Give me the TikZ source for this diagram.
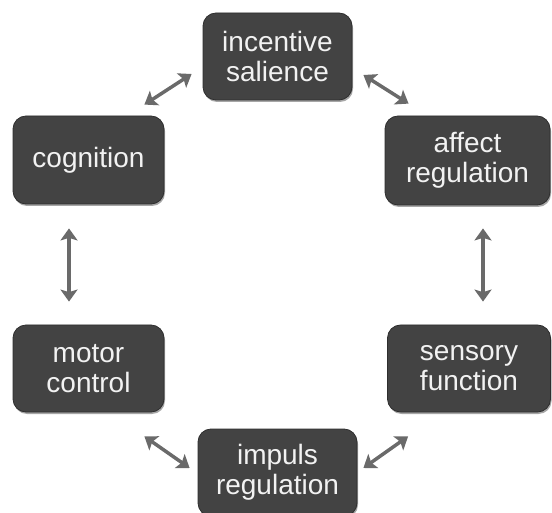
\documentclass[tikz,border=0pt]{standalone}
\usepackage{fontspec}
\setmainfont{Liberation Sans}
\usetikzlibrary{arrows.meta,shadows}
\definecolor{boxfill}{HTML}{434343}
\definecolor{boxedge}{HTML}{2E2E2E}
\definecolor{txt}{HTML}{F2F2F2}
\definecolor{arrgray}{HTML}{6A6A6A}
\tikzset{
  box/.style={draw=boxedge, line width=0.8pt, fill=boxfill, rounded corners=13pt,
    text=txt, align=center, inner sep=0pt,
    font=\fontsize{28pt}{30pt}\selectfont,
    drop shadow={shadow xshift=1pt, shadow yshift=-2pt, opacity=0.35, fill=black}},
  arr/.style={draw=arrgray, line width=3.5pt,
    {Stealth[length=12pt,width=17pt,inset=2.5pt]}-{Stealth[length=12pt,width=17pt,inset=2.5pt]}}
}
\begin{document}
\begin{tikzpicture}[x=1pt,y=-1pt]
\useasboundingbox (0,0) rectangle (552,513);
\node[box, minimum width=149pt, minimum height=87pt] (inc) at (277.5,56.5) {incentive\\salience};
\node[box, minimum width=151pt, minimum height=88pt] (cog) at (88.5,160) {cognition};
\node[box, minimum width=165pt, minimum height=89pt] (aff) at (467.5,160.5) {affect\\regulation};
\node[box, minimum width=151pt, minimum height=87pt] (mot) at (88.5,368.5) {motor\\control};
\node[box, minimum width=163pt, minimum height=87pt] (sen) at (469,368.5) {sensory\\function};
\node[box, minimum width=159pt, minimum height=87pt] (imp) at (277.5,472.5) {impuls\\regulation};
\draw[arr] ([shift={(-20,-11)}]cog.north east) -- ([shift={(-11,17.5)}]inc.west);
\draw[arr] ([shift={(11,18.5)}]inc.east) -- ([shift={(24,-12)}]aff.north west);
\draw[arr] ([shift={(15.5,23)}]aff.south) -- ([shift={(14,-23)}]sen.north);
\draw[arr] ([shift={(-19.5,24)}]cog.south) -- ([shift={(-19.5,-23)}]mot.north);
\draw[arr] ([shift={(-20,24)}]mot.south east) -- ([shift={(-8,-4.5)}]imp.west);
\draw[arr] ([shift={(6,-4.5)}]imp.east) -- ([shift={(21,24)}]sen.south west);
\end{tikzpicture}
\end{document}
